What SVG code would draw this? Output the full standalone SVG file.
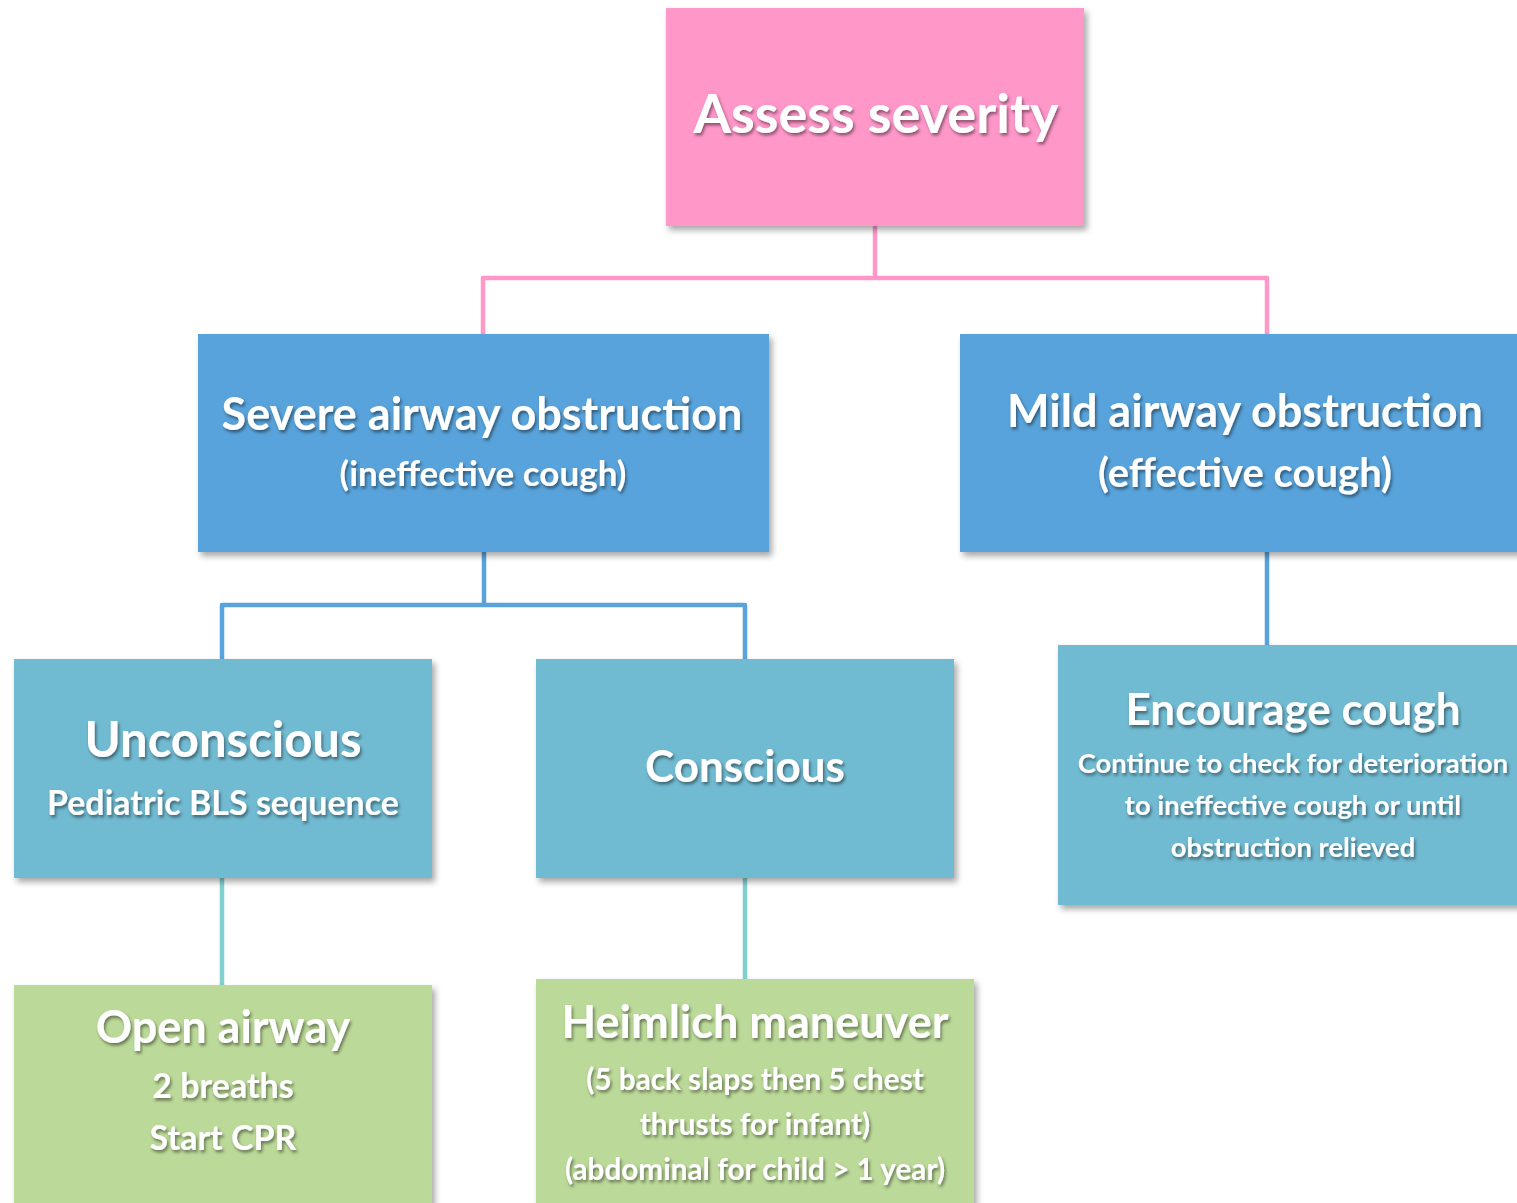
<svg xmlns="http://www.w3.org/2000/svg" width="1517" height="1203" viewBox="0 0 1517 1203">
<defs>
<filter id="boxShadow" x="-10%" y="-10%" width="125%" height="125%">
<feDropShadow dx="3" dy="4" stdDeviation="3" flood-color="#000" flood-opacity="0.35"/>
</filter>
<filter id="textShadow" x="-10%" y="-30%" width="120%" height="170%">
<feDropShadow dx="1.5" dy="2.5" stdDeviation="1.5" flood-color="#000" flood-opacity="0.45"/>
</filter>
</defs>
<style>
text { font-family: Lato, "Open Sans", "Liberation Sans", sans-serif; font-weight: bold; fill: #ffffff; text-anchor: middle; filter: url(#textShadow); }
.pink { fill: #FF97C9; }
.blue { fill: #58A3DB; }
.teal { fill: #70BAD2; }
.green { fill: #BBD998; }
.box { filter: url(#boxShadow); }
.conn { fill: none; stroke-width: 4.5; stroke-linejoin: round; }
</style>
<g id="connectors">
<path class="conn" stroke="#FF97C9" d="M875 226 V278 H483 V334 M875 278 H1267 V334"/>
<path class="conn" stroke="#58A3DB" d="M484 552 V605 H222 V659 M484 605 H745 V659"/>
<path class="conn" stroke="#58A3DB" d="M1267 552 V645"/>
<path class="conn" stroke="#80D0CF" d="M222 878 V985"/>
<path class="conn" stroke="#80D0CF" d="M745 878 V979"/>
</g>
<g id="assess">
<rect class="box pink" x="666" y="8" width="418" height="218"/>
<text x="876" y="133" font-size="54">Assess severity</text>
</g>
<g id="severe">
<rect class="box blue" x="198" y="334" width="571" height="218"/>
<text x="482" y="430" font-size="45">Severe airway obstruction</text>
<text x="483" y="486" font-size="35">(ineffective cough)</text>
</g>
<g id="mild">
<rect class="box blue" x="960" y="334" width="570" height="218"/>
<text x="1245" y="427" font-size="45">Mild airway obstruction</text>
<text x="1245" y="487" font-size="40">(effective cough)</text>
</g>
<g id="unconscious">
<rect class="box teal" x="14" y="659" width="418" height="219"/>
<text x="223" y="757" font-size="49">Unconscious</text>
<text x="223" y="815" font-size="34">Pediatric BLS sequence</text>
</g>
<g id="conscious">
<rect class="box teal" x="536" y="659" width="418" height="219"/>
<text x="745" y="782" font-size="44">Conscious</text>
</g>
<g id="encourage">
<rect class="box teal" x="1058" y="645" width="470" height="260"/>
<text x="1293" y="725" font-size="44">Encourage cough</text>
<text x="1293" y="773" font-size="27.4">Continue to check for deterioration</text>
<text x="1293" y="815" font-size="27.4">to ineffective cough or until</text>
<text x="1293" y="857" font-size="27.4">obstruction relieved</text>
</g>
<g id="open-airway">
<rect class="box green" x="14" y="985" width="418" height="230"/>
<text x="223" y="1043" font-size="45">Open airway</text>
<text x="223" y="1098" font-size="34">2 breaths</text>
<text x="223" y="1150" font-size="34">Start CPR</text>
</g>
<g id="heimlich">
<rect class="box green" x="536" y="979" width="438" height="236"/>
<text x="755" y="1038" font-size="45">Heimlich maneuver</text>
<text x="755" y="1090" font-size="29.7">(5 back slaps then 5 chest</text>
<text x="755" y="1135" font-size="29.7">thrusts for infant)</text>
<text x="755" y="1180" font-size="29.7">(abdominal for child &gt; 1 year)</text>
</g>
</svg>
